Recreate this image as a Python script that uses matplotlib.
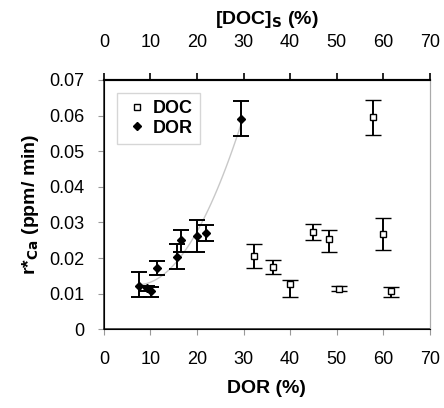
import numpy as np
import matplotlib
matplotlib.use("Agg")
from matplotlib import pyplot as plt
from matplotlib.lines import Line2D

plt.rcParams['font.family'] = ['Liberation Sans', 'DejaVu Sans']

# DOR series (filled diamonds)
dor_x = [7.6, 9.3, 10.2, 11.3, 15.6, 16.6, 20.0, 22.0, 29.4]
dor_y = [0.0122, 0.0115, 0.0108, 0.0171, 0.0204, 0.0251, 0.0263, 0.0270, 0.0591]
dor_lo = [0.0032, 0.0007, 0.0018, 0.0020, 0.0034, 0.0033, 0.0045, 0.0022, 0.0049]
dor_hi = [0.0040, 0.0007, 0.0012, 0.0020, 0.0034, 0.0028, 0.0045, 0.0022, 0.0049]

# DOC series (open squares)
doc_x = [32.3, 36.3, 40.0, 44.9, 48.4, 50.6, 57.9, 59.9, 61.7]
doc_y = [0.0206, 0.0174, 0.0126, 0.0273, 0.0254, 0.0114, 0.0595, 0.0268, 0.0108]
doc_lo = [0.0034, 0.0020, 0.0036, 0.0022, 0.0038, 0.0007, 0.0049, 0.0045, 0.0018]
doc_hi = [0.0034, 0.0020, 0.0012, 0.0022, 0.0025, 0.0007, 0.0049, 0.0045, 0.0012]

xticks = [0, 10, 20, 30, 40, 50, 60, 70]
yticks = [0, 0.01, 0.02, 0.03, 0.04, 0.05, 0.06, 0.07]
ytick_labels = ['0', '0.01', '0.02', '0.03', '0.04', '0.05', '0.06', '0.07']

fig = plt.figure(figsize=(4.44, 4.08), dpi=100)
ax = fig.add_axes([0.234, 0.193, 0.734, 0.611])

# polynomial trend through the DOR points
coef = np.polyfit(dor_x, dor_y, 2)
tx = np.linspace(min(dor_x), max(dor_x), 100)
ax.plot(tx, np.polyval(coef, tx), color='#c8c8c8', lw=1.0, zorder=1)

ebkw = dict(ecolor='black', elinewidth=1.4, capsize=6, capthick=1.4, ls='none', zorder=2)
ax.errorbar(doc_x, doc_y, yerr=[doc_lo, doc_hi], marker='s', ms=4.5, mfc='white',
            mec='black', mew=1.0, **ebkw)
ax.errorbar(dor_x, dor_y, yerr=[dor_lo, dor_hi], marker='D', ms=4.2, mfc='black',
            mec='black', **ebkw)

ax.set_xlim(0, 70)
ax.set_ylim(0, 0.07)
ax.set_xticks(xticks)
ax.set_yticks(yticks)
ax.set_yticklabels(ytick_labels)
ax.tick_params(labelsize=13, direction='out', length=4, color='#999999', pad=10)
ax.tick_params(axis='x', pad=12)
ax.spines['right'].set_color('#aaaaaa')
for s in ['left', 'bottom']:
    ax.spines[s].set_color('#333333')
    ax.spines[s].set_linewidth(1.2)
ax.spines['top'].set_linewidth(1.5)

ax.set_xlabel('DOR (%)', fontsize=14, fontweight='bold', labelpad=8)
ax.set_ylabel(r'r*$_{\mathbf{Ca}}$ (ppm/ min)', fontsize=14, fontweight='bold', labelpad=6)

top = ax.twiny()
top.set_xlim(0, 70)
top.set_xticks(xticks)
top.tick_params(labelsize=13, direction='out', length=5, color='black', width=1.2, pad=16)
top.spines['top'].set_linewidth(1.5)
top.spines['right'].set_color('#aaaaaa')
# top axis title, placed by hand above the tick labels
fig.text(0.234 + 0.734 / 2, 1 - 19 / 408, r'[DOC]$_{\mathbf{S}}$ (%)', fontsize=14,
         fontweight='bold', ha='center', va='center')

handles = [Line2D([], [], ls='none', marker='s', ms=4.5, mfc='white', mec='black'),
           Line2D([], [], ls='none', marker='D', ms=4.2, mfc='black', mec='black')]
leg = ax.legend(handles, ['DOC', 'DOR'], loc='upper left', bbox_to_anchor=(0.012, 0.985),
                prop={'weight': 'bold', 'size': 13}, frameon=True, fancybox=False,
                handletextpad=0.2, handlelength=1.4, borderpad=0.4, labelspacing=0.15)
leg.get_frame().set_edgecolor('#cccccc')

plt.savefig('out.png', dpi=100)
